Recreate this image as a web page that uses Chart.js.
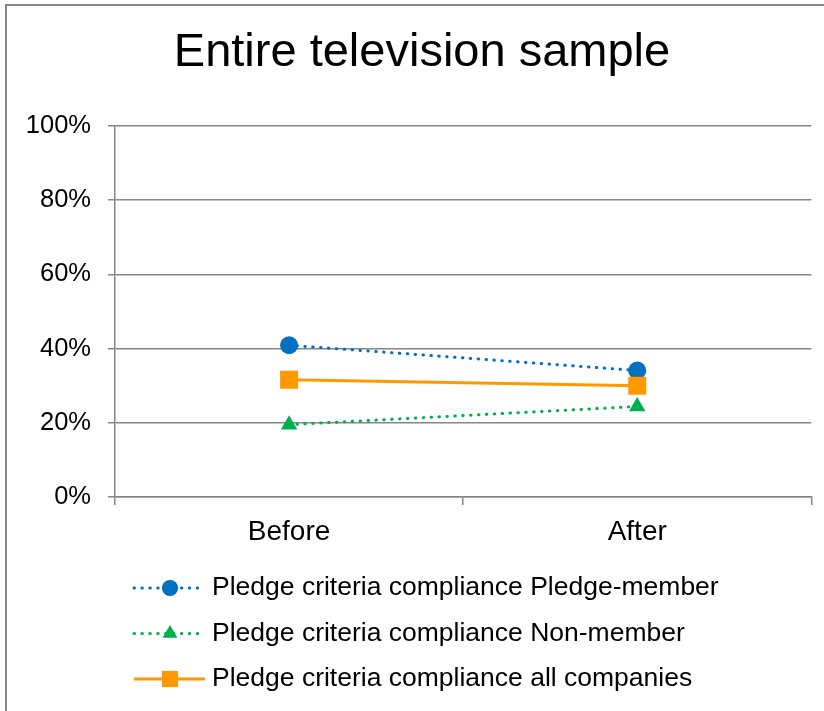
<!DOCTYPE html>
<html>
<head>
<meta charset="utf-8">
<script src="https://cdn.jsdelivr.net/npm/chart.js@4/dist/chart.umd.min.js"></script>
<style>
html,body{margin:0;padding:0;background:#fff;}
#wrap{position:absolute;left:0;top:0;width:824px;height:711px;}
</style>
</head>
<body>
<div id="wrap"><canvas id="c" width="824" height="711"></canvas></div>
<script>
const categories = ['Before', 'After'];
const pledgeMember = [40.9, 34.1];
const nonMember = [19.5, 24.4];
const allCompanies = [31.6, 30.0];
const seriesNames = [
  'Pledge criteria compliance Pledge-member',
  'Pledge criteria compliance Non-member',
  'Pledge criteria compliance all companies'
];
const yTickValues = [0, 20, 40, 60, 80, 100];
const yTickLabels = ['0%', '20%', '40%', '60%', '80%', '100%'];
const titleText = 'Entire television sample';

const FONT = '"Liberation Sans", Arial, sans-serif';
const GRID = '#868686';
const BLUE = '#0070C0', GREEN = '#00B050', ORANGE = '#FF9900';
const DOT = [0.5, 7.4];

function drawMarker(ctx, style, r, x, y) {
  ctx.beginPath();
  if (style === 'circle') {
    ctx.arc(x, y, r, 0, Math.PI * 2);
  } else if (style === 'rect') {
    const s = Math.SQRT1_2 * r;
    ctx.rect(x - s, y - s, 2 * s, 2 * s);
  } else {
    ctx.moveTo(x, y - r);
    ctx.lineTo(x + 0.866 * r, y + r / 2);
    ctx.lineTo(x - 0.866 * r, y + r / 2);
    ctx.closePath();
  }
  ctx.fill();
}

const frameTitleLegend = {
  id: 'frameTitleLegend',
  beforeDraw(chart) {
    const ctx = chart.ctx;
    ctx.save();
    ctx.strokeStyle = GRID;
    ctx.lineWidth = 2;
    ctx.beginPath();
    ctx.moveTo(6, 711);
    ctx.lineTo(6, 5);
    ctx.lineTo(824, 5);
    ctx.stroke();
    ctx.fillStyle = '#000';
    ctx.font = '47px ' + FONT;
    ctx.textAlign = 'center';
    ctx.textBaseline = 'alphabetic';
    ctx.fillText(titleText, 422, 65.7);
    ctx.restore();
  },
  afterDraw(chart) {
    const ctx = chart.ctx;
    const base = chart.chartArea.bottom;
    const rows = [91, 136.5, 182];
    chart.data.datasets.forEach((ds, i) => {
      const y = base + rows[i];
      ctx.save();
      ctx.strokeStyle = ds.borderColor;
      ctx.lineWidth = ds.borderWidth;
      ctx.lineCap = ds.borderCapStyle || 'butt';
      ctx.setLineDash(ds.borderDash || []);
      ctx.beginPath();
      ctx.moveTo(134, y);
      ctx.lineTo(205, y);
      ctx.stroke();
      ctx.setLineDash([]);
      ctx.fillStyle = ds.pointBackgroundColor;
      drawMarker(ctx, ds.pointStyle, ds.pointRadius * 0.9, 170, y);
      ctx.fillStyle = '#000';
      ctx.font = '26.5px ' + FONT;
      ctx.textBaseline = 'middle';
      ctx.textAlign = 'left';
      ctx.fillText(ds.label, 212, y);
      ctx.restore();
    });
  }
};

new Chart(document.getElementById('c'), {
  type: 'line',
  data: {
    labels: categories,
    datasets: [
      {
        label: seriesNames[0], data: pledgeMember, order: 3,
        borderColor: BLUE, backgroundColor: BLUE, borderWidth: 3,
        borderDash: DOT, borderCapStyle: 'round',
        pointStyle: 'circle', pointRadius: 9, pointHoverRadius: 9,
        pointBackgroundColor: BLUE, pointBorderColor: BLUE, pointBorderWidth: 0
      },
      {
        label: seriesNames[1], data: nonMember, order: 2,
        borderColor: GREEN, backgroundColor: GREEN, borderWidth: 3,
        borderDash: DOT, borderCapStyle: 'round',
        pointStyle: 'triangle', pointRadius: 9.5, pointHoverRadius: 9.5,
        pointBackgroundColor: GREEN, pointBorderColor: GREEN, pointBorderWidth: 0
      },
      {
        label: seriesNames[2], data: allCompanies, order: 1,
        borderColor: ORANGE, backgroundColor: ORANGE, borderWidth: 3,
        borderCapStyle: 'butt',
        pointStyle: 'rect', pointRadius: 12.7, pointHoverRadius: 12.7,
        pointBackgroundColor: ORANGE, pointBorderColor: ORANGE, pointBorderWidth: 0
      }
    ]
  },
  options: {
    responsive: false,
    animation: false,
    devicePixelRatio: 1,
    layout: { padding: { left: 0, right: 8, top: 126, bottom: 154 } },
    plugins: {
      legend: { display: false },
      tooltip: { enabled: false },
      title: { display: false }
    },
    scales: {
      x: {
        type: 'category',
        offset: true,
        grid: { display: true, drawOnChartArea: false, offset: true, drawTicks: true, tickLength: 8, color: GRID, lineWidth: 1.5 },
        border: { display: true, color: GRID, width: 1.5 },
        ticks: { color: '#000', font: { family: FONT, size: 28 }, padding: 10, maxRotation: 0 },
        afterFit(s) { s.height = 60; s.paddingLeft = 0; s.paddingRight = 0; }
      },
      y: {
        min: 0, max: 100,
        afterBuildTicks(s) { s.ticks = yTickValues.map(v => ({ value: v })); },
        grid: { color: GRID, lineWidth: 1.5, drawTicks: true, tickLength: 7 },
        border: { display: true, color: GRID, width: 1.5 },
        ticks: {
          color: '#000', font: { family: FONT, size: 25.5 }, padding: 17,
          callback(v) { return yTickLabels[yTickValues.indexOf(v)]; }
        },
        afterFit(s) { s.width = 115; }
      }
    }
  },
  plugins: [frameTitleLegend]
});
</script>
</body>
</html>
